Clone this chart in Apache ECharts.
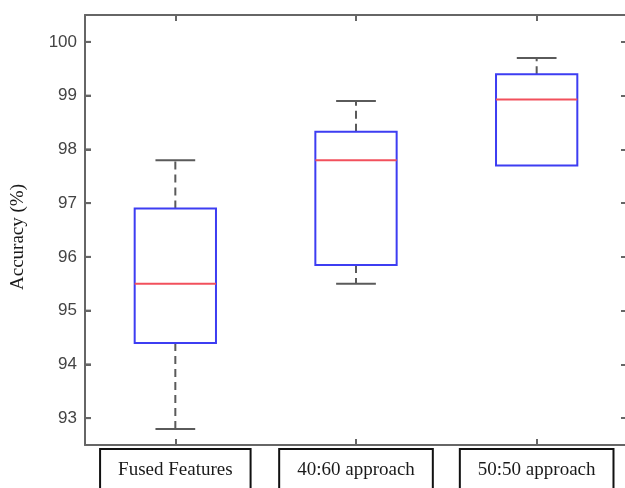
<!DOCTYPE html>
<html>
<head>
<meta charset="utf-8">
<script src="https://cdn.jsdelivr.net/npm/echarts@6/dist/echarts.min.js"></script>
<style>
  html, body { margin: 0; padding: 0; background: #fff; }
  #chart { width: 625px; height: 488px; }
</style>
</head>
<body>
<div id="chart"></div>
<script>
// Approaches being compared
const categories = ['Fused Features', '40:60 approach', '50:50 approach'];
// Five-number summaries of accuracy (%) for each approach
const lowerWhisker = [92.8, 95.5, 97.7];
const lowerQuartile = [94.4, 95.85, 97.7];
const medians = [95.5, 97.8, 98.93];
const upperQuartile = [96.9, 98.33, 99.4];
const upperWhisker = [97.8, 98.9, 99.7];
// Y axis range and tick values
const yMin = 92.5, yMax = 100.5;
const yTicks = [93, 94, 95, 96, 97, 98, 99, 100];

const boxData = categories.map((c, i) => [
  i, lowerWhisker[i], lowerQuartile[i], medians[i], upperQuartile[i], upperWhisker[i]
]);

const axisGray = '#666666';
const boxBlue = '#3d3df2';
const medianRed = '#f2505c';
const whiskerGray = '#5a5a5a';

function renderBox(params, api) {
  const x = api.value(0);
  const pLow = api.coord([x, api.value(1)]);
  const pQ1 = api.coord([x, api.value(2)]);
  const pMed = api.coord([x, api.value(3)]);
  const pQ3 = api.coord([x, api.value(4)]);
  const pHigh = api.coord([x, api.value(5)]);
  const band = api.size([1, 0])[0];
  const half = band * 0.225;
  const capHalf = band * 0.11;
  const cx = pMed[0];
  const children = [];
  const dashStyle = { stroke: whiskerGray, lineWidth: 2, lineDash: [8, 5], fill: null };
  const solidGray = { stroke: whiskerGray, lineWidth: 2, fill: null };
  // whiskers and caps
  if (pHigh[1] < pQ3[1]) {
    children.push({ type: 'line', shape: { x1: cx, y1: pQ3[1], x2: cx, y2: pHigh[1] }, style: dashStyle });
    children.push({ type: 'line', shape: { x1: cx - capHalf, y1: pHigh[1], x2: cx + capHalf, y2: pHigh[1] }, style: solidGray });
  }
  if (pLow[1] > pQ1[1]) {
    children.push({ type: 'line', shape: { x1: cx, y1: pQ1[1], x2: cx, y2: pLow[1] }, style: dashStyle });
    children.push({ type: 'line', shape: { x1: cx - capHalf, y1: pLow[1], x2: cx + capHalf, y2: pLow[1] }, style: solidGray });
  }
  // interquartile box
  children.push({
    type: 'rect',
    shape: { x: cx - half, y: pQ3[1], width: half * 2, height: pQ1[1] - pQ3[1] },
    style: { stroke: boxBlue, lineWidth: 2, fill: null }
  });
  // median
  children.push({
    type: 'line',
    shape: { x1: cx - half, y1: pMed[1], x2: cx + half, y2: pMed[1] },
    style: { stroke: medianRed, lineWidth: 2, fill: null }
  });
  return { type: 'group', children };
}

// inward tick marks along the left edge of the plot frame
function renderLeftTick(params, api) {
  const p = api.coord([0, api.value(1)]);
  const x0 = p[0] - api.size([1, 0])[0] / 2;
  return {
    type: 'line',
    shape: { x1: x0, y1: p[1], x2: x0 + 6, y2: p[1] },
    style: { stroke: axisGray, lineWidth: 2 }
  };
}

const tickStyle = { color: axisGray, width: 2 };

const chart = echarts.init(document.getElementById('chart'), null, { renderer: 'canvas' });
chart.setOption({
  animation: false,
  backgroundColor: '#ffffff',
  grid: { left: 85, top: 15, width: 542, height: 430, containLabel: false, outerBoundsMode: 'none' },
  xAxis: [
    {
      type: 'category',
      data: categories,
      position: 'bottom',
      boundaryGap: true,
      axisLine: { lineStyle: { color: axisGray, width: 2 } },
      axisTick: { show: true, inside: true, length: 6, alignWithLabel: true, interval: 0, lineStyle: tickStyle },
      axisLabel: {
        interval: 0,
        margin: 4,
        fontFamily: 'Liberation Serif',
        fontSize: 19,
        color: '#1a1a1a',
        borderColor: '#111',
        borderWidth: 2,
        padding: [12, 18, 20, 18]
      },
      splitLine: { show: false }
    },
    {
      type: 'category',
      data: categories,
      position: 'top',
      boundaryGap: true,
      axisLine: { lineStyle: { color: axisGray, width: 2 } },
      axisTick: { show: true, inside: true, length: 6, alignWithLabel: true, interval: 0, lineStyle: tickStyle },
      axisLabel: { show: false },
      splitLine: { show: false }
    }
  ],
  yAxis: [
    {
      type: 'value',
      min: yMin,
      max: yMax,
      position: 'left',
      name: 'Accuracy (%)',
      nameLocation: 'middle',
      nameGap: 57,
      nameTextStyle: { fontFamily: 'Liberation Serif', fontSize: 19, color: '#1a1a1a', padding: [0, 14, 0, 0] },
      axisLine: { show: true, onZero: false, lineStyle: { color: axisGray, width: 2 } },
      axisTick: { show: true, inside: true, length: 6, customValues: yTicks, lineStyle: tickStyle },
      axisLabel: {
        customValues: yTicks,
        margin: 8,
        fontFamily: 'Liberation Sans',
        fontSize: 17,
        color: '#444444'
      },
      splitLine: { show: false }
    },
    {
      type: 'value',
      min: yMin,
      max: yMax,
      position: 'right',
      axisLine: { show: true, onZero: false, lineStyle: { color: axisGray, width: 2 } },
      axisTick: { show: true, inside: true, length: 6, customValues: yTicks, lineStyle: tickStyle },
      axisLabel: { show: false },
      splitLine: { show: false }
    }
  ],
  series: [
    {
      type: 'custom',
      name: 'Accuracy',
      xAxisIndex: 0,
      yAxisIndex: 0,
      renderItem: renderBox,
      encode: { x: 0, y: [1, 2, 3, 4, 5] },
      data: boxData,
      clip: false
    },
    {
      type: 'custom',
      name: 'leftTicks',
      xAxisIndex: 0,
      yAxisIndex: 0,
      renderItem: renderLeftTick,
      encode: { x: 0, y: 1 },
      data: yTicks.map(v => [0, v]),
      silent: true,
      clip: false
    }
  ]
});
</script>
</body>
</html>
